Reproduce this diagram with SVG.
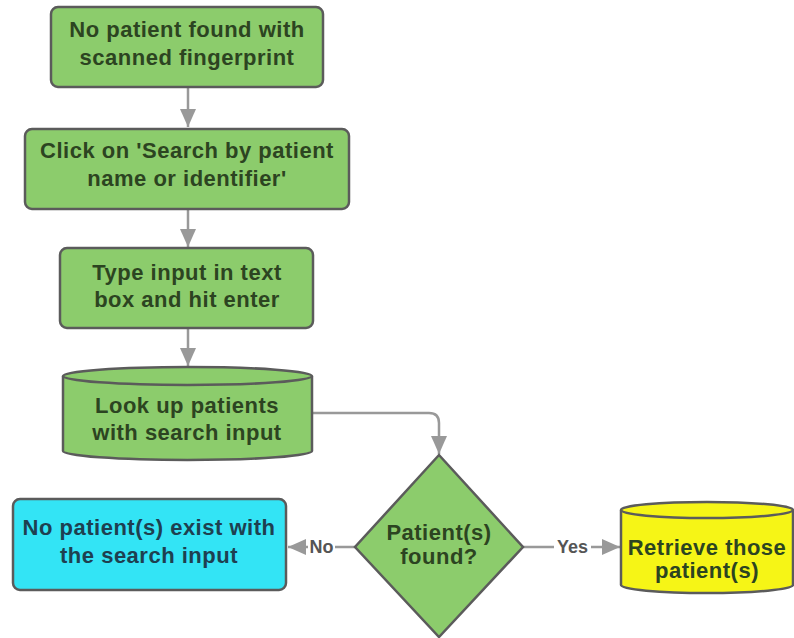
<svg xmlns="http://www.w3.org/2000/svg" width="794" height="638" viewBox="0 0 794 638">
  <style>
    .box { fill: #8ccc6c; stroke: #5b5b5b; stroke-width: 2.5; }
    .cyan { fill: #33e4f5; stroke: #5b5b5b; stroke-width: 2.5; }
    .yellow { fill: #f6f516; stroke: #5b5b5b; stroke-width: 2.5; }
    .t { font-family: "Liberation Sans", Arial, sans-serif; font-weight: bold; font-size: 22px; letter-spacing: 0.5px; text-anchor: middle; fill: #2c4421; }
    .tb { fill: #1e4050; }
    .lbl { font-family: "Liberation Sans", Arial, sans-serif; font-weight: bold; font-size: 18px; text-anchor: middle; fill: #555; }
    .edge { fill: none; stroke: #999; stroke-width: 2.5; }
  </style>
  <defs>
    <marker id="arrow" markerUnits="userSpaceOnUse" markerWidth="20" markerHeight="16" refX="18" refY="8" orient="auto">
      <path d="M0,0 L18,8 L0,16 Z" fill="#999"/>
    </marker>
  </defs>
  <rect width="794" height="638" fill="#fff"/>

  <g id="connectors">
    <path class="edge" d="M188,87 V127" marker-end="url(#arrow)"/>
    <path class="edge" d="M188,209 V247" marker-end="url(#arrow)"/>
    <path class="edge" d="M188,328 V366" marker-end="url(#arrow)"/>
    <path class="edge" d="M312,413 H429 Q439,413 439,423 V454" marker-end="url(#arrow)"/>
    <path class="edge" d="M355,547 H288" marker-end="url(#arrow)"/>
    <rect x="308" y="535" width="27" height="22" fill="#fff"/>
    <text class="lbl" x="321.5" y="553">No</text>
    <path class="edge" d="M523,547 H620" marker-end="url(#arrow)"/>
    <rect x="554" y="535" width="37" height="22" fill="#fff"/>
    <text class="lbl" x="572.5" y="553">Yes</text>
  </g>

  <g id="no-match">
    <rect class="box" x="51" y="7" width="272" height="80" rx="7"/>
    <text class="t" x="187" y="37">No patient found with</text>
    <text class="t" x="187" y="65">scanned fingerprint</text>
  </g>

  <g id="search-option">
    <rect class="box" x="25" y="129" width="324" height="80" rx="7"/>
    <text class="t" x="187" y="158">Click on 'Search by patient</text>
    <text class="t" x="187" y="186">name or identifier'</text>
  </g>

  <g id="type-input">
    <rect class="box" x="60" y="248" width="253" height="80" rx="7"/>
    <text class="t" x="187" y="280">Type input in text</text>
    <text class="t" x="187" y="307">box and hit enter</text>
  </g>

  <g id="lookup">
    <path class="box" d="M63,376 A124.5,9 0 0 1 312,376 V451 A124.5,9 0 0 1 63,451 Z"/>
    <path class="box" style="fill:none" d="M63,376 A124.5,9 0 0 0 312,376"/>
    <text class="t" x="187" y="413">Look up patients</text>
    <text class="t" x="187" y="440">with search input</text>
  </g>

  <g id="decision">
    <path class="box" d="M439,455 L523,547 L439,637 L355,547 Z"/>
    <text class="t" x="439" y="540">Patient(s)</text>
    <text class="t" x="439" y="564">found?</text>
  </g>

  <g id="not-found">
    <rect class="cyan" x="13" y="499" width="273" height="91" rx="7"/>
    <text class="t tb" x="149" y="535">No patient(s) exist with</text>
    <text class="t tb" x="149" y="563">the search input</text>
  </g>

  <g id="retrieve">
    <path class="yellow" d="M621,510 A86,8 0 0 1 793,510 V585 A86,8 0 0 1 621,585 Z"/>
    <path class="yellow" style="fill:none" d="M621,510 A86,8 0 0 0 793,510"/>
    <text class="t" x="707" y="555">Retrieve those</text>
    <text class="t" x="707" y="578">patient(s)</text>
  </g>
</svg>
